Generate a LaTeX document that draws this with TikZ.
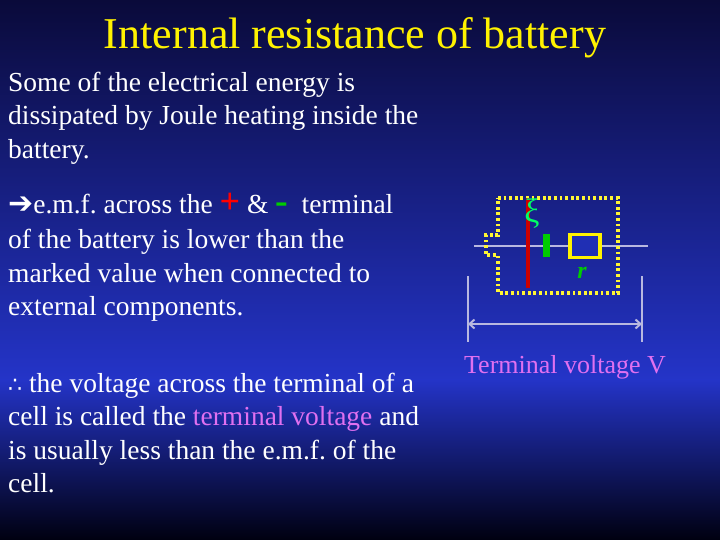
\documentclass[tikz,border=0pt]{standalone}
\usepackage{fontspec}
\setmainfont{Liberation Serif}
\newfontfamily\dejavu{DejaVu Sans}
\usetikzlibrary{arrows.meta}
\begin{document}
\frenchspacing
\begin{tikzpicture}[x=1pt,y=-1pt,
  txt/.style={anchor=base west,inner sep=0pt,text=white,font=\fontsize{27.5}{30}\selectfont},
  wire/.style={draw=gray!60!blue!40!white,line width=2pt}]
\definecolor{bgtop}{HTML}{0A0A3A}
\definecolor{bgmid}{HTML}{2434C8}
\definecolor{bgbot}{HTML}{000010}
\definecolor{pinkv}{HTML}{E070F0}
\fill[top color=bgtop,bottom color=bgmid] (0,0) rectangle (720,380);
\fill[top color=bgmid,bottom color=bgbot] (0,379.5) rectangle (720,540);
\useasboundingbox (0,0) rectangle (720,540);
\node[anchor=base,inner sep=0pt,text=yellow,font=\fontsize{44}{46}\selectfont] (title) at (355,49) {Internal resistance of battery};
\node[txt] (l1) at (8,92) {Some of the electrical energy is};
\node[txt] (l2) at (8,125) {dissipated by Joule heating inside the};
\node[txt] (l3) at (8,159) {battery.};
\node[txt] (l4) at (8,214) {{\dejavu\bfseries\fontsize{30}{30}\selectfont\color{white}➔}e.m.f. across the {\color{red}\bfseries\fontsize{36}{36}\selectfont +} \& {\color{green!80!black}\bfseries\fontsize{38}{36}\selectfont -}\ \ terminal};
\node[txt] (l5) at (8,248) {of the battery is lower than the};
\node[txt] (l6) at (8,282) {marked value when connected to};
\node[txt] (l7) at (8,315) {external components.};
\node[txt] (l8) at (8,392) {{\dejavu\fontsize{22}{22}\selectfont ∴} the voltage across the terminal of a};
\node[txt] (l9) at (8,425) {cell is called the {\color{pinkv}terminal voltage} and};
\node[txt] (l10) at (8,459) {is usually less than the e.m.f. of the};
\node[txt] (l11) at (8,492) {cell.};
% circuit
\coordinate (wl) at (474,246); \coordinate (wr) at (648,246);
\draw[wire] (wl) -- (wr);
\draw[yellow!80!white,line width=3.6pt,dash pattern=on 2.8pt off 2.8pt]
  (498,198) -- (618,198) -- (618,293) -- (498,293) -- (498,255) -- (486,255) -- (486,235) -- (498,235) -- cycle;
\draw[red!80!black,line width=4pt] (528,198) -- (528,288);
\fill[green!80!black] (543,234) rectangle (550,257);
\node[draw=yellow,line width=3.5pt,fill=bgmid!90!black,minimum width=30pt,minimum height=23pt,inner sep=0pt] (r) at (585,246) {};
\node[text=green!80!black,font=\bfseries\itshape\fontsize{24}{24}\selectfont] (rl) at (582,273) {r};
\node[text=green!60!cyan,font=\fontsize{34}{34}\selectfont] (xi) at (532,214) {ξ};
\coordinate (da) at (468,276); \coordinate (db) at (468,342);
\coordinate (dc) at (642,276); \coordinate (dd) at (642,342);
\draw[wire] (da) -- (db); \draw[wire] (dc) -- (dd);
\draw[wire,{Straight Barb[length=5pt,width=9pt]}-{Straight Barb[length=5pt,width=9pt]}] (468,324) -- (642,324);
\node[anchor=base,inner sep=0pt,text=pinkv,font=\fontsize{26}{28}\selectfont] (tv) at (565,373) {Terminal voltage V};
\end{tikzpicture}
\end{document}
